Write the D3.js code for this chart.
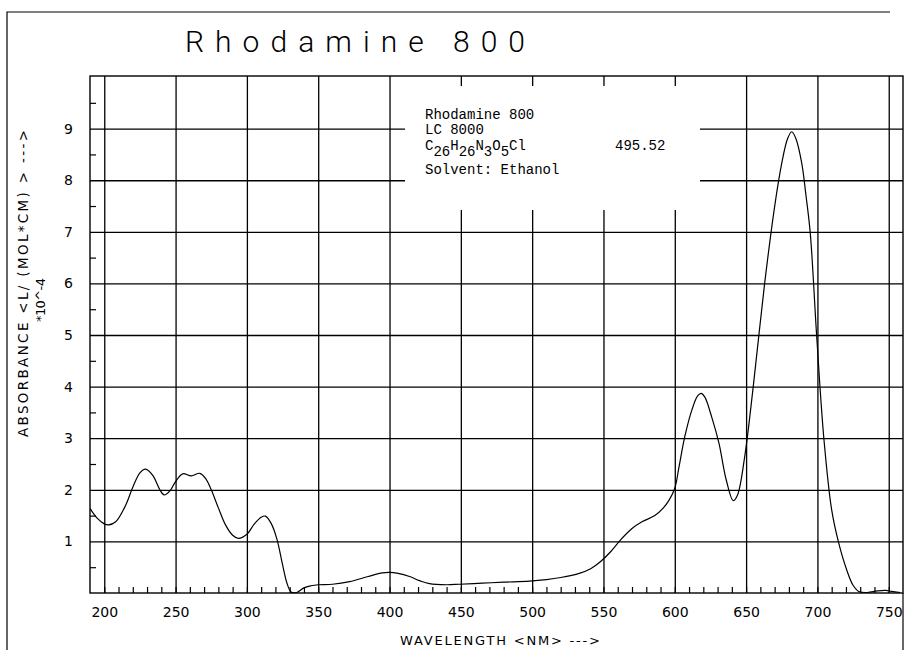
<!DOCTYPE html>
<html>
<head>
<meta charset="utf-8">
<script src="https://cdn.jsdelivr.net/npm/d3@7"></script>
<style>
  html, body { margin: 0; padding: 0; background: #fff; }
  svg { display: block; }
</style>
</head>
<body>
<svg id="chart" width="905" height="650"></svg>
<script>
// ---- data ----
const wavelengths = [190, 195, 200, 203, 208, 215, 220, 225, 229, 234, 239, 242, 246, 250, 255, 261, 267, 271, 275, 280, 285, 290, 294, 300, 305, 310, 313, 317, 321, 325, 328, 331, 335, 340, 345, 350, 360, 372, 385, 395, 400, 406, 414, 421, 428, 440, 449, 465, 480, 498, 510, 520, 533, 541, 548, 555, 562, 570, 577, 586, 592, 596, 600, 603, 607, 612, 616, 618.5, 621, 626, 631, 636, 641, 644, 649, 655, 663, 670, 675, 679, 682, 685, 689, 692, 695, 699.5, 704.5, 710, 715, 720.5, 725, 729, 735, 742, 748, 752, 758];
const absorbance  = [1.64, 1.45, 1.34, 1.32, 1.38, 1.70, 2.05, 2.33, 2.40, 2.28, 2.00, 1.90, 1.98, 2.16, 2.31, 2.27, 2.32, 2.22, 2.00, 1.65, 1.32, 1.12, 1.06, 1.14, 1.33, 1.47, 1.49, 1.35, 1.05, 0.55, 0.20, 0.02, 0.01, 0.10, 0.14, 0.16, 0.17, 0.22, 0.32, 0.39, 0.40, 0.38, 0.32, 0.24, 0.18, 0.16, 0.17, 0.19, 0.21, 0.23, 0.26, 0.30, 0.38, 0.47, 0.61, 0.80, 1.03, 1.25, 1.38, 1.50, 1.65, 1.80, 2.03, 2.45, 3.03, 3.55, 3.82, 3.87, 3.80, 3.40, 2.90, 2.20, 1.79, 1.90, 2.64, 4.00, 6.00, 7.49, 8.33, 8.80, 8.94, 8.80, 8.33, 7.70, 6.97, 4.97, 3.00, 1.61, 0.96, 0.45, 0.15, 0.03, 0.01, 0.04, 0.05, 0.03, 0.01];
const xTickValues = [200, 250, 300, 350, 400, 450, 500, 550, 600, 650, 700, 750];
const yTickValues = [1, 2, 3, 4, 5, 6, 7, 8, 9];
const xMinorTicks = d3.range(200, 760, 10);
const yMinorTicks = d3.range(0.5, 10, 1);
const titleText = "Rhodamine 800";
const xTitle = "WAVELENGTH <NM> --->";
const yTitle1 = "ABSORBANCE <L/ (MOL*CM) > --->";
const yTitle2 = "*10^-4";
const legendLines = ["Rhodamine 800", "LC 8000"];
const formulaParts = [["C", false], ["26", true], ["H", false], ["26", true], ["N", false], ["3", true], ["O", false], ["5", true], ["Cl", false]];
const molWeight = "495.52";
const solventText = "Solvent: Ethanol";

// ---- layout ----
const L = 90, R = 903, T = 76, B = 593;
const svg = d3.select("#chart");
const x = d3.scaleLinear().domain([190, 760]).range([L, R]);
const y = d3.scaleLinear().domain([0, 10.02]).range([B, T]);

const labelFont = "'DejaVu Sans', sans-serif";

svg.append("defs").append("clipPath").attr("id", "plotclip")
  .append("rect").attr("x", L).attr("y", T).attr("width", R - L).attr("height", B - T + 0.5);

// outer frame
svg.append("path")
  .attr("d", `M7,650 L7,12 L890,12`)
  .attr("fill", "none").attr("stroke", "#000").attr("stroke-width", 1.2);
svg.append("line").attr("x1", R).attr("x2", R).attr("y1", B).attr("y2", 650)
  .attr("stroke", "#000").attr("stroke-width", 1.2);

// title
svg.append("text")
  .attr("x", 185).attr("y", 52)
  .attr("textLength", 340).attr("lengthAdjust", "spacing")
  .style("font-family", "Roboto, 'DejaVu Sans', sans-serif").style("font-size", "30px").style("font-weight", 300)
  .text(titleText);

// gridlines
const gx = svg.append("g").attr("transform", `translate(0,${B})`)
  .call(d3.axisBottom(x).tickValues(xTickValues).tickSize(-(B - T)).tickFormat(""));
const gy = svg.append("g").attr("transform", `translate(${L},0)`)
  .call(d3.axisLeft(y).tickValues(yTickValues).tickSize(-(R - L)).tickFormat(""));
[gx, gy].forEach(g => {
  g.select(".domain").remove();
  g.selectAll(".tick line").attr("stroke", "#000").attr("stroke-width", 1.3);
});

// minor ticks
const mx = svg.append("g").attr("transform", `translate(0,${B})`)
  .call(d3.axisBottom(x).tickValues(xMinorTicks).tickSize(-6).tickFormat(""));
const my = svg.append("g").attr("transform", `translate(${L},0)`)
  .call(d3.axisLeft(y).tickValues(yMinorTicks).tickSize(-6).tickFormat(""));
[mx, my].forEach(g => {
  g.select(".domain").remove();
  g.selectAll(".tick line").attr("stroke", "#000").attr("stroke-width", 1.2);
});

// plot border
svg.append("rect").attr("x", L).attr("y", T).attr("width", R - L).attr("height", B - T)
  .attr("fill", "none").attr("stroke", "#000").attr("stroke-width", 1.4);

// info box (white, hides gridlines)
svg.append("rect").attr("x", 405).attr("y", 86).attr("width", 295).attr("height", 124)
  .attr("fill", "#fff");

const monoFont = "'Liberation Mono', 'Courier New', monospace";
const lg = svg.append("g").style("font-family", monoFont).style("font-size", "14px");
lg.append("text").attr("x", 425).attr("y", 119).text(legendLines[0]);
lg.append("text").attr("x", 425).attr("y", 134).text(legendLines[1]);
const ft = lg.append("text").attr("x", 425).attr("y", 150);
let prevSub = false;
formulaParts.forEach(([s, sub]) => {
  const dy = sub === prevSub ? 0 : (sub ? 6 : -6);
  ft.append("tspan").attr("dy", dy).text(s);
  prevSub = sub;
});
lg.append("text").attr("x", 615).attr("y", 150).text(molWeight);
lg.append("text").attr("x", 425).attr("y", 174).text(solventText);

// curve
const pts = wavelengths.map((w, i) => [w, absorbance[i]]);
svg.append("path")
  .datum(pts)
  .attr("clip-path", "url(#plotclip)")
  .attr("fill", "none").attr("stroke", "#000").attr("stroke-width", 1.2)
  .attr("d", d3.line().x(d => x(d[0])).y(d => y(d[1])).curve(d3.curveCatmullRom.alpha(0.5)));

// tick labels
const xl = svg.append("g").attr("transform", `translate(0,${B})`)
  .call(d3.axisBottom(x).tickValues(xTickValues).tickSize(0).tickPadding(14).tickFormat(d3.format("d")));
const yl = svg.append("g").attr("transform", `translate(${L},0)`)
  .call(d3.axisLeft(y).tickValues(yTickValues).tickSize(0).tickPadding(17).tickFormat(d3.format("d")));
[xl, yl].forEach(g => {
  g.select(".domain").remove();
  g.selectAll("text").style("font-family", labelFont).style("font-size", "14px").attr("fill", "#000");
});

// axis titles
svg.append("text")
  .attr("x", 500).attr("y", 645).attr("text-anchor", "middle")
  .attr("textLength", 200).attr("lengthAdjust", "spacing")
  .style("font-family", labelFont).style("font-size", "13px")
  .text(xTitle);
svg.append("text")
  .attr("transform", "translate(28,283.5) rotate(-90)")
  .attr("text-anchor", "middle")
  .attr("textLength", 307).attr("lengthAdjust", "spacing")
  .style("font-family", labelFont).style("font-size", "13.5px")
  .text(yTitle1);
svg.append("text")
  .attr("transform", "translate(45,300) rotate(-90)")
  .attr("text-anchor", "middle")
  .attr("textLength", 44).attr("lengthAdjust", "spacing")
  .style("font-family", labelFont).style("font-size", "13px")
  .text(yTitle2);
</script>
</body>
</html>
